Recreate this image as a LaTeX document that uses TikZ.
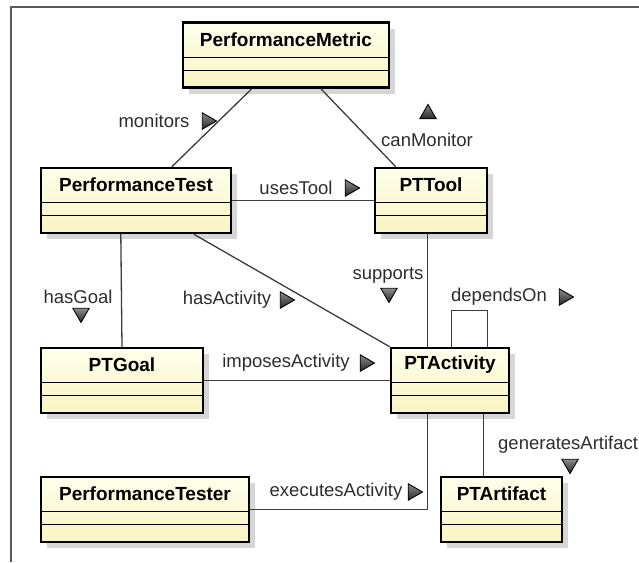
\documentclass[tikz,border=0pt]{standalone}
\usepackage{fontspec}
\setmainfont{Liberation Sans}
\usetikzlibrary{shapes.geometric,shadows,calc}

\definecolor{clsTop}{RGB}{255,255,236}
\definecolor{clsBot}{RGB}{249,244,194}
\definecolor{lineGray}{RGB}{60,60,60}
\definecolor{textGray}{RGB}{45,45,45}
\definecolor{frameGray}{RGB}{90,90,90}

\tikzset{
  cls/.style={draw=black, line width=2.4pt, top color=clsTop, bottom color=clsBot,
    minimum height=65pt, inner sep=0pt,
    drop shadow={shadow xshift=6pt, shadow yshift=-6pt, fill=black!16, opacity=1}},
  clsname/.style={font=\fontsize{19}{22}\selectfont\bfseries, text=black, inner sep=0pt},
  assoc/.style={draw=lineGray, line width=1.3pt},
  rolelbl/.style={font=\fontsize{18.5}{22}\selectfont, text=textGray, inner sep=0pt},
  dirmark/.style={regular polygon, regular polygon sides=3, minimum size=19pt,
    inner sep=0pt, draw=black, line width=0.9pt, top color=black!45, bottom color=black!85}
}

% the two empty compartments of a class box
\newcommand{\clsparts}[1]{%
  \draw[line width=1.2pt] ([yshift=-36pt]#1.north west) -- ([yshift=-36pt]#1.north east);
  \draw[line width=1.2pt] ([yshift=-49pt]#1.north west) -- ([yshift=-49pt]#1.north east);}

\begin{document}
\begin{tikzpicture}[x=1pt,y=-1pt]
  \useasboundingbox (0,0) rectangle (639,562);
  \clip (0,0) rectangle (639,562);
  \draw[frameGray, line width=1.4pt] (639,7) -- (11,7) -- (11,562);

  % classes
  \node[cls, minimum width=206pt] (pm) at (286,55) {};
  \node[cls, minimum width=190pt] (ptest) at (136,200.5) {};
  \node[cls, minimum width=112pt] (tool) at (431,200.5) {};
  \node[cls, minimum width=162pt] (goal) at (122,380.5) {};
  \node[cls, minimum width=118pt] (act) at (450,380.5) {};
  \node[cls, minimum width=208pt] (tester) at (145,509.5) {};
  \node[cls, minimum width=121pt] (art) at (501.5,509.5) {};

  \node[clsname] (pmN) at ([yshift=-18pt]pm.north) {PerformanceMetric};
  \node[clsname] (ptestN) at ([yshift=-18pt]ptest.north) {PerformanceTest};
  \node[clsname] (toolN) at ([yshift=-18pt]tool.north) {PTTool};
  \node[clsname] (goalN) at ([yshift=-18pt]goal.north) {PTGoal};
  \node[clsname] (actN) at ([yshift=-18pt]act.north) {PTActivity};
  \node[clsname] (testerN) at ([yshift=-18pt]tester.north) {PerformanceTester};
  \node[clsname] (artN) at ([yshift=-18pt]art.north) {PTArtifact};

  \clsparts{pm} \clsparts{ptest} \clsparts{tool} \clsparts{goal}
  \clsparts{act} \clsparts{tester} \clsparts{art}

  % associations
  \draw[assoc] ($(pm.south west)+(70,0)$) -- ($(ptest.north west)+(132,0)$);
  \draw[assoc] ($(pm.south west)+(139,0)$) -- ($(tool.north west)+(22,0)$);
  \draw[assoc] (ptest.east) -- (tool.west);
  \draw[assoc] ($(ptest.south west)+(81,0)$) -- (goal.north);
  \draw[assoc] ($(ptest.south west)+(154,0)$) -- (act.north west);
  \draw[assoc] ($(tool.south west)+(54,0)$) -- ($(act.north west)+(38,0)$);
  \draw[assoc] ($(act.north west)+(62,0)$) -- ++(0,-36) -| ($(act.north west)+(98,0)$);
  \draw[assoc] (goal.east) -- (act.west);
  \draw[assoc] ($(act.south west)+(38,0)$) |- (tester.east);
  \draw[assoc] ($(act.south west)+(94,0)$) -- ($(art.north west)+(44,0)$);

  % role names
  \node[rolelbl] (monL) at (154,121) {monitors};
  \node[dirmark, shape border rotate=-90] (monT) at (207,121) {};
  \node[dirmark] (canT) at (428,114) {};
  \node[rolelbl] (canL) at (427,140) {canMonitor};
  \node[rolelbl] (useL) at (296,188) {usesTool};
  \node[dirmark, shape border rotate=-90] (useT) at (350,188) {};
  \node[rolelbl] (goalL) at (78,297) {hasGoal};
  \node[dirmark, shape border rotate=180] (goalT) at (81,313) {};
  \node[rolelbl] (actL) at (227,300) {hasActivity};
  \node[dirmark, shape border rotate=-90] (actT) at (285,300) {};
  \node[rolelbl] (supL) at (388,275) {supports};
  \node[dirmark, shape border rotate=180] (supT) at (389,293) {};
  \node[rolelbl] (depL) at (499,297) {dependsOn};
  \node[dirmark, shape border rotate=-90] (depT) at (564,297) {};
  \node[rolelbl] (impL) at (286,363) {imposesActivity};
  \node[dirmark, shape border rotate=-90] (impT) at (365,363) {};
  \node[rolelbl] (exeL) at (336,492) {executesActivity};
  \node[dirmark, shape border rotate=-90] (exeT) at (413,492) {};
  \node[rolelbl, anchor=west] (genL) at (498,445) {generatesArtifact};
  \node[dirmark, shape border rotate=180] (genT) at (570,464) {};
\end{tikzpicture}
\end{document}
